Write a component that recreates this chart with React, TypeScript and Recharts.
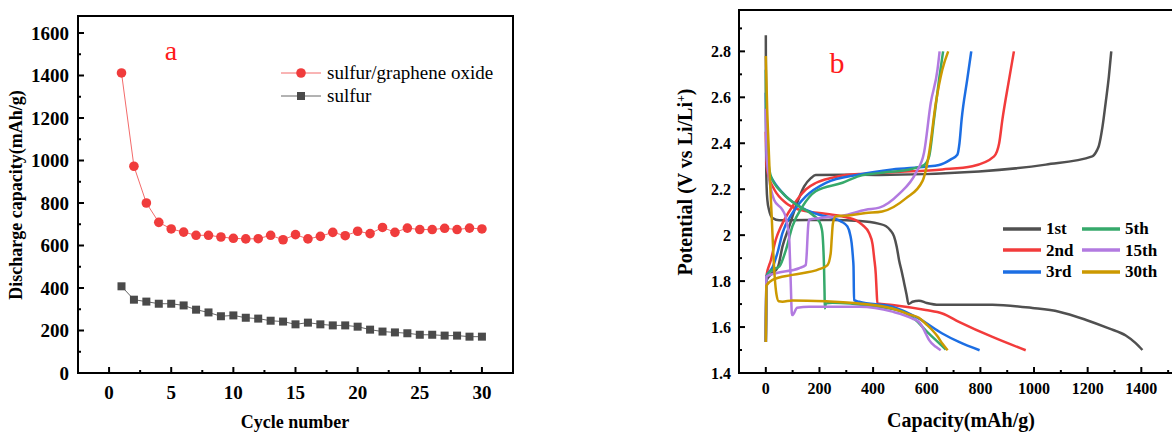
import { LineChart, Line, XAxis, YAxis, ReferenceArea, Legend } from 'recharts'

const serif = '"Liberation Serif", "Times New Roman", serif'

// ---- panel a: cycling performance ----
const cycles = [1, 2, 3, 4, 5, 6, 7, 8, 9, 10, 11, 12, 13, 14, 15, 16, 17, 18, 19, 20, 21, 22, 23, 24, 25, 26, 27, 28, 29, 30]
const sulfurGO = [1412, 973, 800, 709, 678, 663, 648, 648, 640, 634, 631, 632, 648, 627, 651, 631, 643, 662, 646, 667, 656, 685, 662, 682, 675, 675, 681, 675, 682, 678]
const sulfurOnly = [408, 345, 336, 326, 326, 318, 298, 285, 267, 271, 260, 256, 246, 242, 229, 237, 229, 224, 224, 218, 204, 195, 191, 187, 180, 180, 176, 176, 171, 171]
const cycleTicks = [0, 2.5, 5, 7.5, 10, 12.5, 15, 17.5, 20, 22.5, 25, 27.5, 30, 32.5]
const capTicksA = [0, 100, 200, 300, 400, 500, 600, 700, 800, 900, 1000, 1100, 1200, 1300, 1400, 1500, 1600]

// ---- panel b: charge / discharge profiles (capacity mAh/g, potential V) ----
const c1Discharge = [[0, 2.87], [0.5, 2.5], [1.5, 2.3], [3, 2.21], [6, 2.15], [12, 2.11], [25, 2.075], [50, 2.065], [150, 2.066], [250, 2.066], [350, 2.062], [420, 2.05], [447, 2.04], [465, 2.02], [478, 1.995], [488, 1.95], [497, 1.89], [507, 1.84], [516, 1.79], [525, 1.74], [532, 1.7], [547, 1.71], [571, 1.715], [600, 1.705], [646, 1.697], [845, 1.697], [994, 1.683], [1093, 1.667], [1192, 1.632], [1279, 1.594], [1342, 1.563], [1379, 1.53], [1404, 1.5]]
const c1Charge = [[0, 1.535], [2, 1.8], [20, 1.83], [45, 1.86], [62, 1.95], [87, 2.037], [112, 2.125], [143, 2.212], [168, 2.248], [186, 2.262], [300, 2.263], [423, 2.262], [795, 2.277], [1044, 2.307], [1217, 2.343], [1235, 2.37], [1242, 2.39], [1255, 2.47], [1267, 2.576], [1279, 2.69], [1288, 2.8]]
const c2Discharge = [[0, 2.45], [3, 2.3], [12, 2.25], [31, 2.2], [75, 2.14], [124, 2.111], [199, 2.096], [248, 2.089], [300, 2.078], [335, 2.065], [360, 2.045], [385, 2.009], [398, 1.96], [404, 1.9], [410, 1.83], [413, 1.76], [416, 1.703], [472, 1.696], [596, 1.674], [658, 1.659], [720, 1.623], [845, 1.557], [969, 1.499]]
const c2Charge = [[0, 1.535], [2, 1.82], [19, 1.892], [37, 1.98], [56, 2.037], [87, 2.103], [120, 2.16], [150, 2.2], [186, 2.227], [248, 2.25], [298, 2.262], [373, 2.267], [472, 2.274], [658, 2.286], [770, 2.3], [851, 2.343], [870, 2.4], [882, 2.503], [907, 2.678], [925, 2.8]]
const c3Discharge = [[0, 2.62], [3, 2.35], [12, 2.27], [25, 2.242], [75, 2.169], [137, 2.118], [199, 2.089], [250, 2.075], [280, 2.06], [304, 2.038], [315, 2.0], [320, 1.965], [325, 1.9], [327, 1.863], [329, 1.717], [348, 1.71], [472, 1.689], [571, 1.637], [658, 1.572], [720, 1.535], [797, 1.499]]
const c3Charge = [[0, 1.535], [2, 1.82], [25, 1.86], [45, 1.93], [62, 2.009], [99, 2.096], [149, 2.169], [224, 2.228], [348, 2.264], [472, 2.286], [596, 2.298], [646, 2.305], [690, 2.33], [714, 2.35], [722, 2.4], [730, 2.503], [751, 2.678], [766, 2.8]]
const c5Discharge = [[0, 2.72], [3, 2.4], [19, 2.257], [62, 2.184], [124, 2.125], [174, 2.089], [199, 2.06], [208, 2.03], [211, 2.009], [215, 1.93], [217, 1.863], [219, 1.75], [220, 1.681], [224, 1.703], [248, 1.706], [398, 1.691], [509, 1.667], [559, 1.63], [596, 1.586], [634, 1.543], [671, 1.502]]
const c5Charge = [[0, 1.535], [2, 1.82], [25, 1.85], [50, 1.863], [75, 1.936], [99, 2.038], [137, 2.125], [186, 2.191], [286, 2.228], [348, 2.257], [423, 2.27], [547, 2.289], [590, 2.305], [609, 2.343], [627, 2.503], [646, 2.678], [661, 2.8]]
const c15Discharge = [[0, 2.55], [3, 2.35], [12, 2.25], [31, 2.153], [62, 2.11], [74, 2.08], [81, 2.04], [87, 1.99], [90, 1.9], [93, 1.79], [97, 1.66], [99, 1.652], [117, 1.684], [161, 1.688], [348, 1.688], [472, 1.667], [547, 1.637], [572, 1.62], [584, 1.601], [597, 1.57], [609, 1.543], [634, 1.514], [652, 1.499]]
const c15Charge = [[0, 1.535], [2, 1.82], [37, 1.834], [124, 1.856], [149, 1.87], [153, 1.93], [155, 1.98], [158, 2.04], [161, 2.067], [199, 2.074], [286, 2.085], [373, 2.111], [423, 2.12], [497, 2.18], [559, 2.27], [590, 2.36], [615, 2.576], [640, 2.72], [648, 2.8]]
const c30Discharge = [[0, 2.78], [5, 2.55], [10, 2.4], [15, 2.25], [22, 2.08], [28, 1.92], [33, 1.82], [40, 1.74], [48, 1.712], [62, 1.71], [99, 1.716], [224, 1.712], [348, 1.703], [472, 1.681], [535, 1.655], [571, 1.64], [600, 1.61], [621, 1.586], [640, 1.56], [658, 1.528], [678, 1.499]]
const c30Charge = [[0, 1.535], [2, 1.78], [25, 1.805], [99, 1.827], [199, 1.852], [230, 1.87], [242, 1.922], [246, 1.99], [250, 2.05], [261, 2.082], [298, 2.085], [373, 2.096], [434, 2.103], [522, 2.16], [584, 2.235], [609, 2.359], [634, 2.576], [658, 2.72], [680, 2.8]]
const capTicksB = [0, 100, 200, 300, 400, 500, 600, 700, 800, 900, 1000, 1100, 1200, 1300, 1400, 1500]
const potTicksB = [1.4, 1.5, 1.6, 1.7, 1.8, 1.9, 2.0, 2.1, 2.2, 2.3, 2.4, 2.5, 2.6, 2.7, 2.8, 2.9]

const cycleNames = ['1st', '2nd', '3rd', '5th', '15th', '30th']
const cycleColors = ['#505050', '#f23b3b', '#1c6ee3', '#36a96b', '#b27ae0', '#cc9900']
const curves = [
  [c1Discharge, c1Charge],
  [c2Discharge, c2Charge],
  [c3Discharge, c3Charge],
  [c5Discharge, c5Charge],
  [c15Discharge, c15Charge],
  [c30Discharge, c30Charge],
]

// custom ticks: Origin style, pointing inward, minor ticks without labels
function makeXTick(isMajor: (v: number) => boolean, fontSize: number, dy: number) {
  return (props: any) => {
    const { x, y, payload } = props
    const v = payload.value
    const major = isMajor(v)
    return (
      <g>
        <line x1={x} x2={x} y1={y} y2={y - (major ? 6 : 3)} stroke="#000" strokeWidth={2} />
        {major && (
          <text x={x} y={y + dy} textAnchor="middle" fontFamily={serif} fontWeight="bold" fontSize={fontSize} fill="#000">
            {String(Number(v.toFixed(1)))}
          </text>
        )}
      </g>
    )
  }
}

function makeYTick(isMajor: (v: number) => boolean, fontSize: number, gap: number) {
  return (props: any) => {
    const { x, y, payload } = props
    const v = payload.value
    const major = isMajor(v)
    return (
      <g>
        <line x1={x} x2={x + (major ? 6 : 3)} y1={y} y2={y} stroke="#000" strokeWidth={2} />
        {major && (
          <text x={x - gap} y={y} dy="0.35em" textAnchor="end" fontFamily={serif} fontWeight="bold" fontSize={fontSize} fill="#000">
            {String(Number(v.toFixed(1)))}
          </text>
        )}
      </g>
    )
  }
}

function SquareDot(props: any) {
  const { cx, cy } = props
  return <rect x={cx - 4} y={cy - 4} width={8} height={8} fill="#4a4a4a" />
}

function LegendA() {
  const rows = [
    { name: 'sulfur/graphene oxide', line: '#f36b6b', fill: '#f03c3c', shape: 'circle' },
    { name: 'sulfur', line: '#666', fill: '#4a4a4a', shape: 'square' },
  ]
  return (
    <div style={{ fontFamily: serif, fontSize: 19, color: '#000' }}>
      {rows.map((r) => (
        <div key={r.name} style={{ display: 'flex', alignItems: 'center', height: 23 }}>
          <svg width={40} height={12} style={{ marginRight: 6 }}>
            <line x1={0} x2={40} y1={6} y2={6} stroke={r.line} strokeWidth={1} />
            {r.shape === 'circle'
              ? <circle cx={20} cy={6} r={4.8} fill={r.fill} />
              : <rect x={16} y={2} width={8} height={8} fill={r.fill} />}
          </svg>
          <span style={{ lineHeight: '19px' }}>{r.name}</span>
        </div>
      ))}
    </div>
  )
}

function LegendB() {
  const cols = [[0, 1, 2], [3, 4, 5]]
  return (
    <div style={{ display: 'flex', fontFamily: serif, fontSize: 17, fontWeight: 'bold', color: '#000' }}>
      {cols.map((col, ci) => (
        <div key={ci} style={{ width: 79 }}>
          {col.map((i) => (
            <div key={i} style={{ display: 'flex', alignItems: 'center', height: 21.5 }}>
              <svg width={38} height={6} style={{ marginRight: 5 }}>
                <line x1={0} x2={38} y1={3} y2={3} stroke={cycleColors[i]} strokeWidth={3.5} />
              </svg>
              <span style={{ lineHeight: '17px' }}>{cycleNames[i]}</span>
            </div>
          ))}
        </div>
      ))}
    </div>
  )
}

function PanelA() {
  const data = cycles.map((c, i) => ({ cycle: c, go: sulfurGO[i], s: sulfurOnly[i] }))
  return (
    <LineChart width={540} height={432} data={data} margin={{ top: 16, right: 27, bottom: 29, left: 18 }}>
      <XAxis
        dataKey="cycle"
        type="number"
        domain={[-2.5, 32.5]}
        ticks={cycleTicks}
        interval={0}
        height={30}
        axisLine={false}
        tickLine={false}
        tickSize={0}
        tickMargin={0}
        tick={makeXTick((v) => v % 5 === 0, 19, 26)}
      />
      <YAxis
        type="number"
        domain={[0, 1680]}
        ticks={capTicksA}
        interval={0}
        width={60}
        axisLine={false}
        tickLine={false}
        tickSize={0}
        tickMargin={0}
        tick={makeYTick((v) => v % 200 === 0, 19, 9)}
      />
      <ReferenceArea x1={-2.5} x2={32.5} y1={0} y2={1680} fill="none" stroke="#000" strokeWidth={2} />
      <Line dataKey="s" stroke="#666" strokeWidth={1} dot={<SquareDot />} activeDot={false} isAnimationActive={false} />
      <Line dataKey="go" stroke="#f36b6b" strokeWidth={1} dot={{ r: 4.8, fill: '#f03c3c', stroke: 'none' }} activeDot={false} isAnimationActive={false} />
      <Legend
        layout="horizontal"
        verticalAlign="middle"
        align="center"
        content={<LegendA />}
        wrapperStyle={{ left: 281, top: 61, width: 240, height: 46 }}
      />
    </LineChart>
  )
}

function PanelB() {
  return (
    <LineChart width={516} height={432} margin={{ top: 10, right: 2.5, bottom: 29, left: 19 }}>
      <XAxis
        dataKey="cap"
        type="number"
        domain={[-100, 1520]}
        ticks={capTicksB}
        interval={0}
        height={30}
        axisLine={false}
        tickLine={false}
        tickSize={0}
        tickMargin={0}
        tick={makeXTick((v) => v % 200 === 0, 16, 21)}
      />
      <YAxis
        type="number"
        domain={[1.4, 2.98]}
        ticks={potTicksB}
        interval={0}
        width={60}
        axisLine={false}
        tickLine={false}
        tickSize={0}
        tickMargin={0}
        tick={makeYTick((v) => Math.round(v * 10) % 2 === 0, 16, 8)}
      />
      <ReferenceArea x1={-100} x2={1520} y1={1.4} y2={2.98} fill="none" stroke="#000" strokeWidth={2} />
      {curves.map((pair, i) =>
        pair.map((pts, j) => (
          <Line
            key={`${i}-${j}`}
            data={pts.map(([cap, v]) => ({ cap, v }))}
            dataKey="v"
            type="monotoneX"
            stroke={cycleColors[i]}
            strokeWidth={2.5}
            strokeLinejoin="round"
            dot={false}
            activeDot={false}
            isAnimationActive={false}
          />
        ))
      )}
      <Legend
        layout="horizontal"
        verticalAlign="middle"
        align="center"
        content={<LegendB />}
        wrapperStyle={{ left: 343, top: 218, width: 170, height: 66 }}
      />
    </LineChart>
  )
}

const titleStyle = { position: 'absolute' as const, fontFamily: serif, fontWeight: 'bold' as const, whiteSpace: 'nowrap' as const, color: '#000' }

export default function App() {
  return (
    <div style={{ position: 'absolute', left: 0, top: 0, width: 1172, height: 432, overflow: 'hidden', background: '#fff' }}>
      <div style={{ position: 'absolute', left: 0, top: 0 }}>
        <PanelA />
      </div>
      <div style={{ position: 'absolute', left: 660, top: 0 }}>
        <PanelB />
      </div>

      <div style={{ ...titleStyle, left: 295, top: 413, fontSize: 18, lineHeight: '18px', transform: 'translateX(-50%)' }}>Cycle number</div>
      <div style={{ ...titleStyle, left: 16, top: 195, fontSize: 18, lineHeight: '18px', transform: 'translate(-50%, -50%) rotate(-90deg)' }}>
        Discharge capacity(mAh/g)
      </div>
      <div style={{ position: 'absolute', left: 171, top: 37, fontFamily: serif, fontSize: 28, lineHeight: '28px', color: '#ff1a1a', transform: 'translateX(-50%)' }}>a</div>

      <div style={{ ...titleStyle, left: 961, top: 410, fontSize: 20, lineHeight: '20px', transform: 'translateX(-50%)' }}>Capacity(mAh/g)</div>
      <div style={{ ...titleStyle, left: 685, top: 182, fontSize: 20, lineHeight: '20px', transform: 'translate(-50%, -50%) rotate(-90deg)' }}>
        Potential (V vs Li/Li<sup style={{ fontSize: 12, verticalAlign: 'top', lineHeight: '12px' }}>+</sup>)
      </div>
      <div style={{ position: 'absolute', left: 837, top: 48, fontFamily: serif, fontSize: 30, lineHeight: '30px', color: '#ff1a1a', transform: 'translateX(-50%)' }}>b</div>
    </div>
  )
}
